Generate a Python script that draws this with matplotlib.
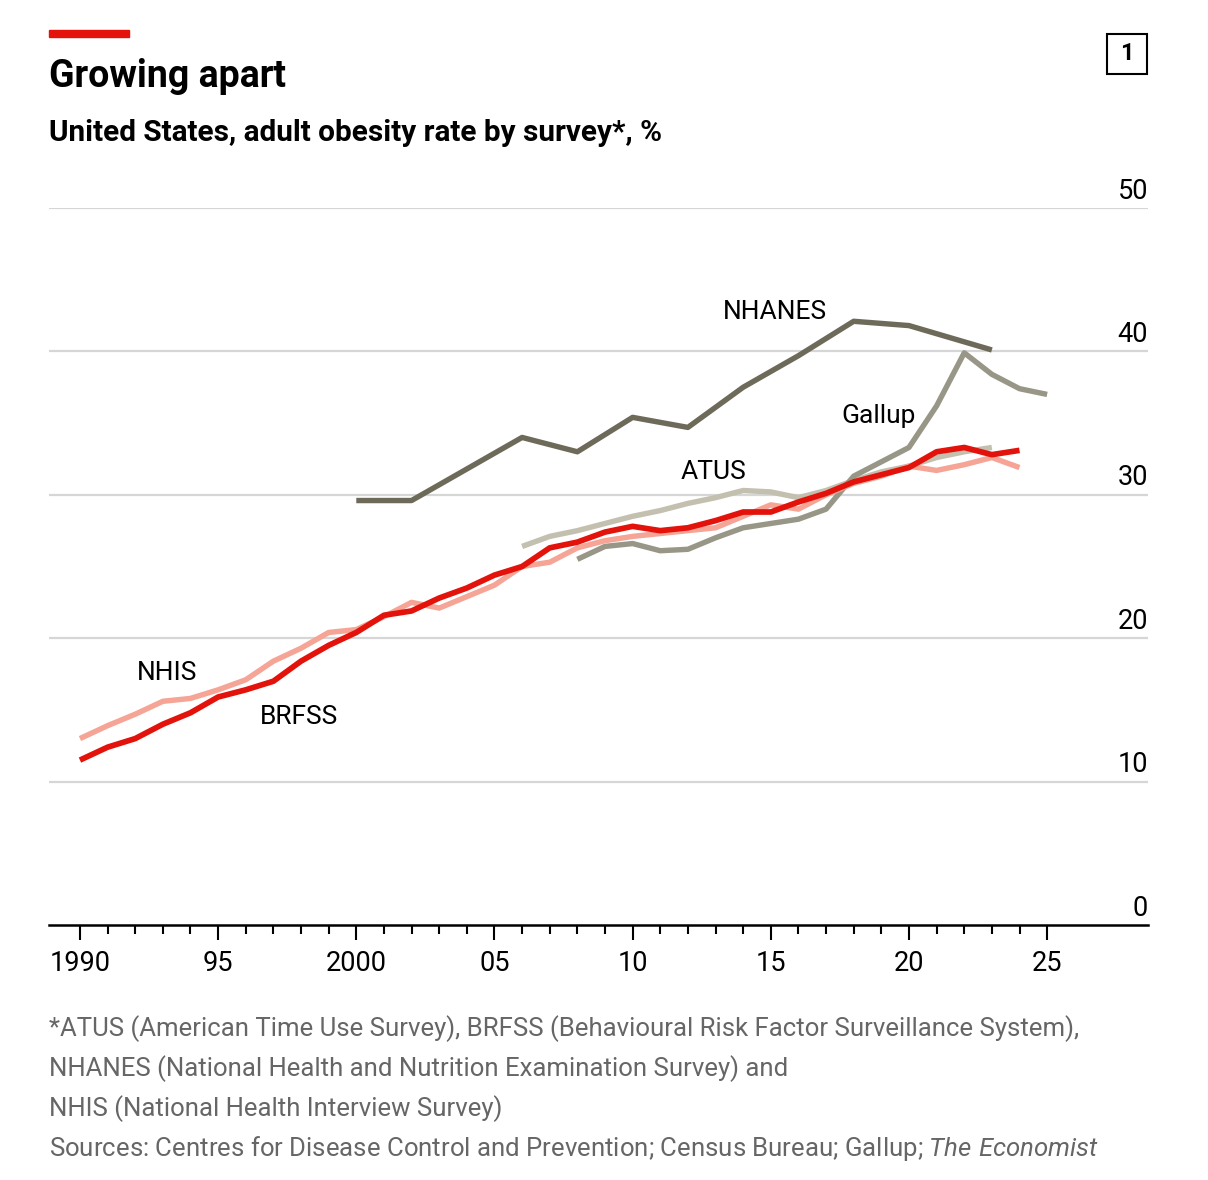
import matplotlib
matplotlib.use("Agg")
import matplotlib.pyplot as plt
from matplotlib.patches import Rectangle

plt.rcParams['font.family'] = ['Roboto', 'DejaVu Sans']
plt.rcParams['mathtext.fontset'] = 'custom'
plt.rcParams['mathtext.rm'] = 'Roboto'
plt.rcParams['mathtext.it'] = 'Roboto:italic'

# BRFSS, 1990-2024
brfss_years = list(range(1990, 2025))
brfss = [11.5, 12.4, 13.0, 14.0, 14.8, 15.9, 16.4, 17.0, 18.4, 19.5,
         20.4, 21.6, 21.9, 22.8, 23.5, 24.4, 25.0, 26.3, 26.7, 27.4,
         27.8, 27.5, 27.7, 28.2, 28.8, 28.8, 29.5, 30.1, 30.9, 31.4,
         31.9, 33.0, 33.3, 32.8, 33.1]

# NHIS, 1990-2024
nhis_years = list(range(1990, 2025))
nhis = [13.0, 13.9, 14.7, 15.6, 15.8, 16.4, 17.1, 18.4, 19.3, 20.4,
        20.6, 21.5, 22.5, 22.1, 22.9, 23.7, 25.0, 25.3, 26.3, 26.8,
        27.1, 27.3, 27.5, 27.7, 28.5, 29.3, 29.0, 30.0, 30.8, 31.3,
        32.0, 31.7, 32.1, 32.6, 31.9]

# ATUS, 2006-2023
atus_years = list(range(2006, 2024))
atus = [26.4, 27.1, 27.5, 28.0, 28.5, 28.9, 29.4, 29.8, 30.3, 30.2,
        29.8, 30.3, 31.0, 31.6, 32.0, 32.6, 33.0, 33.3]

# Gallup, 2008-2025
gallup_years = list(range(2008, 2026))
gallup = [25.5, 26.4, 26.6, 26.1, 26.2, 27.0, 27.7, 28.0, 28.3, 29.0,
          31.3, 32.3, 33.3, 36.2, 39.9, 38.4, 37.4, 37.0]

# NHANES, survey cycles
nhanes_years = [2000, 2002, 2004, 2006, 2008, 2010, 2012, 2014, 2016, 2018, 2020, 2023]
nhanes = [29.6, 29.6, 31.8, 34.0, 33.0, 35.4, 34.7, 37.5, 39.7, 42.1, 41.8, 40.1]

y_ticks = [0, 10, 20, 30, 40, 50]
x_major = [1990, 1995, 2000, 2005, 2010, 2015, 2020, 2025]
x_major_labels = ['1990', '95', '2000', '05', '10', '15', '20', '25']

RED = '#e3120b'
SALMON = '#f5a495'
NHANES_C = '#6e6a5a'
GALLUP_C = '#989787'
ATUS_C = '#c3c0b0'

W, H = 1208, 1180
fig = plt.figure(figsize=(W / 100, H / 100), dpi=100)
ax = fig.add_axes([49 / W, 1 - 925 / H, (1148 - 49) / W, (925 - 208) / H])

lw = 3.9
ax.plot(atus_years, atus, color=ATUS_C, lw=lw, zorder=2, solid_capstyle='butt')
ax.plot(gallup_years, gallup, color=GALLUP_C, lw=lw, zorder=3, solid_capstyle='butt')
ax.plot(nhanes_years, nhanes, color=NHANES_C, lw=lw, zorder=3, solid_capstyle='butt')
ax.plot(nhis_years, nhis, color=SALMON, lw=lw, zorder=4, solid_capstyle='butt')
ax.plot(brfss_years, brfss, color=RED, lw=4.1, zorder=5, solid_capstyle='butt')

ax.set_xlim(1988.88, 2028.65)
ax.set_ylim(0, 50)

# gridlines and y labels sitting on top of them at the right
for v in y_ticks[1:]:
    ax.axhline(v, color='#d6d6d6', lw=1.6, zorder=1)
for v in y_ticks:
    ax.annotate(str(v), xy=(1.0, v), xycoords=ax.get_yaxis_transform(),
                xytext=(0, 2.5), textcoords='offset points',
                ha='right', va='bottom', fontsize=19.5, color='black')
ax.set_yticks([])

for s in ('top', 'right', 'left'):
    ax.spines[s].set_visible(False)
ax.spines['bottom'].set_linewidth(1.8)
ax.spines['bottom'].set_zorder(6)

ax.set_xticks(x_major)
ax.set_xticklabels(x_major_labels, fontsize=19.5)
ax.set_xticks(range(1990, 2026), minor=True)
ax.tick_params(axis='x', which='major', length=11, width=1.5, pad=7)
ax.tick_params(axis='x', which='minor', length=6.5, width=1.5)

# series labels
lab = dict(fontsize=19, color='black', zorder=7)
ax.text(2013.27, 42.75, 'NHANES', ha='left', va='center', **lab)
ax.text(2017.55, 35.5, 'Gallup', ha='left', va='center', **lab)
ax.text(2011.75, 31.6, 'ATUS', ha='left', va='center', **lab)
ax.text(1992.05, 17.6, 'NHIS', ha='left', va='center', **lab)
ax.text(1996.5, 14.5, 'BRFSS', ha='left', va='center', **lab)

# header
fig.patches.append(Rectangle((49 / W, 1 - 37 / H), 80 / W, 7 / H,
                             transform=fig.transFigure, color=RED))
fig.text(49 / W, 1 - 87 / H, 'Growing apart', fontsize=27, weight='bold', va='baseline')
fig.text(49 / W, 1 - 141 / H, 'United States, adult obesity rate by survey*, %',
         fontsize=21.4, weight='semibold', va='baseline')
fig.patches.append(Rectangle((1107 / W, 1 - 74 / H), 40 / W, 40 / H,
                             transform=fig.transFigure, fill=False, lw=1.5, ec='black'))
fig.text(1127 / W, 1 - 54 / H, '1', fontsize=17, weight='bold', ha='center', va='center')

# footnotes
notes = ['*ATUS (American Time Use Survey), BRFSS (Behavioural Risk Factor Surveillance System),',
         'NHANES (National Health and Nutrition Examination Survey) and',
         'NHIS (National Health Interview Survey)']
for i, line in enumerate(notes):
    fig.text(49 / W, 1 - (1036 + 40 * i) / H, line, fontsize=18.5, color='#666666', va='baseline')
fig.text(49 / W, 1 - 1156 / H,
         'Sources: Centres for Disease Control and Prevention; Census Bureau; Gallup; $\\it{The\\ Economist}$',
         fontsize=18.5, color='#666666', va='baseline')

fig.savefig('out.png', dpi=100)
